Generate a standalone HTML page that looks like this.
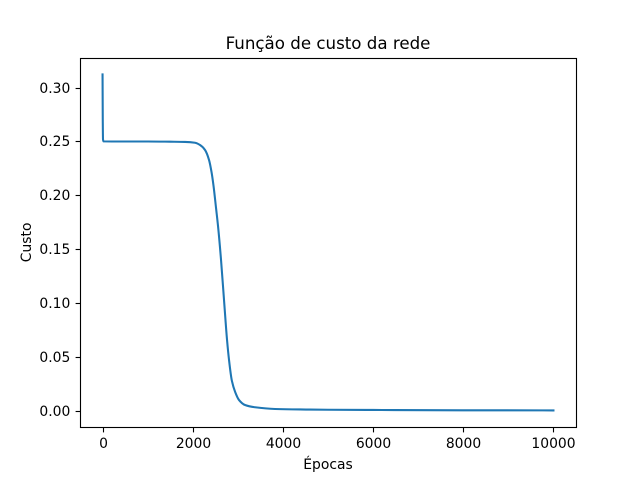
<!DOCTYPE html>
<html lang="pt">
<head>
<meta charset="utf-8">
<title>Função de custo da rede</title>
<style>
html,body{margin:0;padding:0;background:#fff;}
svg{display:block;}
text{font-family:"DejaVu Sans",sans-serif;fill:#000;}
</style>
</head>
<body>
<svg id="chart" width="640" height="480" viewBox="0 0 640 480" xmlns="http://www.w3.org/2000/svg">
  <rect x="0" y="0" width="640" height="480" fill="#fff"/>
  <rect x="80" y="57.6" width="496" height="369.6" fill="#fff"/>
  <g id="series"></g>
  <g id="ticks"></g>
  <rect x="80.5" y="58.5" width="496" height="369" fill="none" stroke="#000" stroke-width="1.11"/>
  <text x="328" y="49" font-size="16.67" text-anchor="middle">Função de custo da rede</text>
  <text x="328" y="469" font-size="13.89" text-anchor="middle">Épocas</text>
  <text transform="translate(31 242.4) rotate(-90)" font-size="13.89" text-anchor="middle">Custo</text>
</svg>
<script>
const epochs = [0, 5, 10, 20, 500, 1000, 1500, 1830, 2051, 2162, 2273, 2362, 2417, 2462, 2517, 2561, 2628, 2694, 2761, 2805, 2865, 2939, 3027, 3160, 3382, 3826, 4600, 5000, 6000, 8000, 10000];
const costs = [0.3122, 0.2700, 0.2520, 0.2500, 0.2499, 0.2499, 0.2497, 0.2495, 0.2487, 0.2466, 0.2420, 0.2327, 0.2215, 0.2085, 0.1881, 0.1714, 0.1398, 0.1027, 0.0656, 0.0470, 0.0284, 0.0175, 0.0098, 0.0052, 0.0031, 0.0015, 0.0010, 0.0008, 0.0006, 0.0003, 0.0002];
const xTicks = [0, 2000, 4000, 6000, 8000, 10000];
const yTicks = [0.00, 0.05, 0.10, 0.15, 0.20, 0.25, 0.30];

const NS = 'http://www.w3.org/2000/svg';
const plot = {left: 80, right: 576, top: 57.6, bottom: 427.2};
const xMin = Math.min.apply(null, epochs);
const xMax = Math.max.apply(null, epochs);
const yMin = Math.min.apply(null, costs);
const yMax = Math.max.apply(null, costs);
const xPad = (xMax - xMin) * 0.05;
const yPad = (yMax - yMin) * 0.05;

function xScale(v) {
  return plot.left + (v - (xMin - xPad)) / ((xMax + xPad) - (xMin - xPad)) * (plot.right - plot.left);
}
function yScale(v) {
  return plot.bottom - (v - (yMin - yPad)) / ((yMax + yPad) - (yMin - yPad)) * (plot.bottom - plot.top);
}
function snap(v) {
  return Math.floor(v + 0.5) + 0.5;
}
function make(tag, attrs) {
  const el = document.createElementNS(NS, tag);
  Object.keys(attrs).forEach(function (k) { el.setAttribute(k, attrs[k]); });
  return el;
}
/* Monotone cubic path through the plotted data points (no overshoot). */
function monotonePath(px, py) {
  const n = px.length;
  const d = [];
  const m = [];
  for (let i = 0; i < n - 1; i++) {
    d.push((py[i + 1] - py[i]) / (px[i + 1] - px[i]));
  }
  m.push(d[0]);
  for (let i = 1; i < n - 1; i++) {
    if (d[i - 1] * d[i] <= 0) {
      m.push(0);
    } else {
      const h0 = px[i] - px[i - 1];
      const h1 = px[i + 1] - px[i];
      const w0 = 2 * h1 + h0;
      const w1 = h1 + 2 * h0;
      m.push((w0 + w1) / (w0 / d[i - 1] + w1 / d[i]));
    }
  }
  m.push(d[n - 2]);
  let out = 'M' + px[0].toFixed(2) + ' ' + py[0].toFixed(2);
  for (let i = 0; i < n - 1; i++) {
    const h = (px[i + 1] - px[i]) / 3;
    out += ' C' + (px[i] + h).toFixed(2) + ' ' + (py[i] + m[i] * h).toFixed(2) +
      ' ' + (px[i + 1] - h).toFixed(2) + ' ' + (py[i + 1] - m[i + 1] * h).toFixed(2) +
      ' ' + px[i + 1].toFixed(2) + ' ' + py[i + 1].toFixed(2);
  }
  return out;
}

const seriesLayer = document.getElementById('series');
const tickLayer = document.getElementById('ticks');

const line = make('path', {d: monotonePath(epochs.map(xScale), costs.map(yScale)), fill: 'none', stroke: '#1f77b4', 'stroke-width': 2.08, 'stroke-linejoin': 'round', 'stroke-linecap': 'square'});


seriesLayer.appendChild(line);

xTicks.forEach(function (t) {
  const x = snap(xScale(t));
  const mark = make('line', {x1: x, x2: x, y1: 427.5, y2: 432.4, stroke: '#000', 'stroke-width': 1.11});
  
  
  tickLayer.appendChild(mark);
  const label = make('text', {x: x, y: 448, 'font-size': 13.89, 'text-anchor': 'middle'});
  
  
  label.textContent = String(t);
  tickLayer.appendChild(label);
});

yTicks.forEach(function (t) {
  const y = snap(yScale(t));
  const mark = make('line', {x1: 75.6, x2: 80.5, y1: y, y2: y, stroke: '#000', 'stroke-width': 1.11});
  
  
  tickLayer.appendChild(mark);
  const label = make('text', {x: 70.3, y: y + 4.5, 'font-size': 13.89, 'text-anchor': 'end'});
  
  
  label.textContent = t.toFixed(2);
  tickLayer.appendChild(label);
});
</script>
</body>
</html>
